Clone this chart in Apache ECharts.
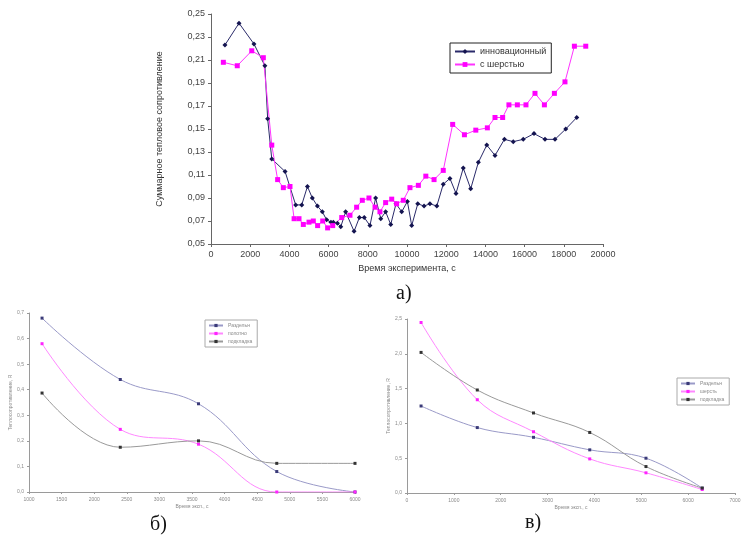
<!DOCTYPE html>
<html>
<head>
<meta charset="utf-8">
<script src="https://cdn.jsdelivr.net/npm/echarts@6/dist/echarts.min.js"></script>
<style>
  html, body { margin: 0; padding: 0; background: #fff; }
  #main { width: 746px; height: 542px; }
</style>
</head>
<body>
<div id="main"></div>
<script>
// --- а) суммарное тепловое сопротивление ---
var timeInnov = [710, 1430, 2190, 2750, 2890, 3100, 3780, 4320, 4630, 4920, 5170, 5430, 5680, 5900, 6120, 6240, 6450, 6620, 6870, 7300, 7570, 7820, 8110, 8400, 8660, 8910, 9170, 9440, 9730, 10020, 10240, 10550, 10870, 11170, 11520, 11850, 12190, 12500, 12870, 13250, 13640, 14070, 14490, 14970, 15420, 15930, 16480, 17040, 17550, 18100, 18660];
var valInnov = [0.223, 0.242, 0.224, 0.205, 0.159, 0.124, 0.113, 0.084, 0.084, 0.100, 0.090, 0.083, 0.078, 0.071, 0.069, 0.069, 0.068, 0.065, 0.078, 0.061, 0.073, 0.073, 0.066, 0.090, 0.072, 0.078, 0.067, 0.085, 0.078, 0.087, 0.066, 0.085, 0.083, 0.085, 0.083, 0.102, 0.107, 0.094, 0.116, 0.098, 0.121, 0.136, 0.127, 0.141, 0.139, 0.141, 0.146, 0.141, 0.141, 0.150, 0.160];
var timeWool = [630, 1340, 2080, 2670, 3100, 3400, 3690, 4030, 4240, 4490, 4710, 5000, 5220, 5440, 5700, 5950, 6210, 6670, 7090, 7430, 7720, 8060, 8370, 8620, 8910, 9220, 9470, 9810, 10150, 10580, 10960, 11380, 11850, 12330, 12930, 13510, 14100, 14490, 14880, 15200, 15630, 16070, 16530, 17010, 17520, 18060, 18540, 19120];
var valWool = [0.208, 0.205, 0.218, 0.212, 0.136, 0.106, 0.099, 0.100, 0.072, 0.072, 0.067, 0.069, 0.070, 0.066, 0.070, 0.064, 0.066, 0.073, 0.075, 0.082, 0.088, 0.090, 0.082, 0.078, 0.086, 0.089, 0.085, 0.088, 0.099, 0.101, 0.109, 0.106, 0.114, 0.154, 0.145, 0.149, 0.151, 0.160, 0.160, 0.171, 0.171, 0.171, 0.181, 0.171, 0.181, 0.191, 0.222, 0.222];
var yTicksA = [0.05, 0.07, 0.09, 0.11, 0.13, 0.15, 0.17, 0.19, 0.21, 0.23, 0.25];

// --- б) ---
var timeB = [1200, 2400, 3600, 4800, 6000];
var valB1 = [0.68, 0.44, 0.345, 0.08, 0.0];
var valB2 = [0.58, 0.245, 0.187, 0.0, 0.0];
var valB3 = [0.387, 0.175, 0.2, 0.112, 0.112];

// --- в) ---
var timeV = [300, 1500, 2700, 3900, 5100, 6300];
var valV1 = [1.25, 0.94, 0.80, 0.62, 0.50, 0.07];
var valV2 = [2.45, 1.34, 0.88, 0.49, 0.29, 0.05];
var valV3 = [2.02, 1.48, 1.15, 0.87, 0.38, 0.07];

var namesA = ['инновационный', 'с шерстью'];
var namesB = ['Раздельн', 'полотно', 'подкладка'];
var namesV = ['Раздельн', 'шерсть', 'подкладка'];

function zip(xs, ys) {
  return xs.map(function (x, i) { return [x, ys[i]]; });
}
function comma(d) {
  return function (v) { return v.toFixed(d).replace('.', ','); };
}
function plain(v) { return String(v); }

var chart = echarts.init(document.getElementById('main'));

var smallTxt = { fontSize: 5, color: '#8a8a8a', fontFamily: 'Liberation Sans' };
var smallAxis = { lineStyle: { color: '#9a9a9a', width: 1 } };

var option = {
  animation: false,
  backgroundColor: '#ffffff',
  textStyle: { fontFamily: 'Liberation Sans' },
  grid: [
    { left: 211, top: 14, width: 392, height: 230 },
    { left: 29, top: 313, width: 326, height: 179 },
    { left: 407, top: 319, width: 328, height: 174 }
  ],
  xAxis: [
    {
      gridIndex: 0, type: 'value', min: 0, max: 20000, interval: 2000,
      name: 'Время эксперимента, с', nameLocation: 'middle', nameGap: 20,
      nameTextStyle: { fontSize: 9, color: '#333' },
      axisLine: { lineStyle: { color: '#666' } },
      axisTick: { length: 3, lineStyle: { color: '#666' } },
      axisLabel: { fontSize: 9, color: '#444', margin: 6, formatter: plain },
      splitLine: { show: false }
    },
    {
      gridIndex: 1, type: 'value', min: 1000, max: 6000, interval: 500,
      name: 'Время эксп., с', nameLocation: 'middle', nameGap: 12,
      nameTextStyle: smallTxt,
      axisLine: smallAxis, axisTick: { length: 2, lineStyle: { color: '#9a9a9a' } },
      axisLabel: Object.assign({ margin: 5, formatter: plain }, smallTxt),
      splitLine: { show: false }
    },
    {
      gridIndex: 2, type: 'value', min: 0, max: 7000, interval: 1000,
      name: 'Время эксп., с', nameLocation: 'middle', nameGap: 12,
      nameTextStyle: smallTxt,
      axisLine: smallAxis, axisTick: { length: 2, lineStyle: { color: '#9a9a9a' } },
      axisLabel: Object.assign({ margin: 5, formatter: plain }, smallTxt),
      splitLine: { show: false }
    }
  ],
  yAxis: [
    {
      gridIndex: 0, type: 'value', min: 0.05, max: 0.25,
      name: 'Суммарное тепловое сопротивление', nameLocation: 'middle', nameGap: 47,
      nameTextStyle: { fontSize: 9, color: '#333' },
      axisLine: { show: true, lineStyle: { color: '#666' } },
      axisTick: { show: true, length: 3, customValues: yTicksA, lineStyle: { color: '#666' } },
      axisLabel: { fontSize: 9, color: '#444', margin: 6, customValues: yTicksA, formatter: comma(2) },
      splitLine: { show: false }
    },
    {
      gridIndex: 1, type: 'value', min: 0, max: 0.7, interval: 0.1,
      name: 'Теплосопротивление, R', nameLocation: 'middle', nameGap: 16,
      nameTextStyle: smallTxt,
      axisLine: Object.assign({ show: true }, smallAxis),
      axisTick: { show: true, length: 2, lineStyle: { color: '#9a9a9a' } },
      axisLabel: Object.assign({ margin: 5, formatter: comma(1) }, smallTxt),
      splitLine: { show: false }
    },
    {
      gridIndex: 2, type: 'value', min: 0, max: 2.5, interval: 0.5,
      name: 'Теплосопротивление, R', nameLocation: 'middle', nameGap: 16,
      nameTextStyle: smallTxt,
      axisLine: Object.assign({ show: true }, smallAxis),
      axisTick: { show: true, length: 2, lineStyle: { color: '#9a9a9a' } },
      axisLabel: Object.assign({ margin: 5, formatter: comma(1) }, smallTxt),
      splitLine: { show: false }
    }
  ],
  legend: [
    {
      data: namesA, orient: 'vertical', left: 450, top: 43,
      borderColor: '#222', borderWidth: 1, padding: [4, 5, 4, 4], itemGap: 4,
      itemWidth: 20, itemHeight: 6,
      textStyle: { fontSize: 9, color: '#333' }
    },
    {
      data: namesB, orient: 'vertical', left: 205, top: 320,
      borderColor: '#aaa', borderWidth: 1, padding: [3, 5, 3, 3], itemGap: 3,
      itemWidth: 14, itemHeight: 4,
      textStyle: smallTxt
    },
    {
      data: namesV, orient: 'vertical', left: 677, top: 378,
      borderColor: '#aaa', borderWidth: 1, padding: [3, 5, 3, 3], itemGap: 3,
      itemWidth: 14, itemHeight: 4,
      textStyle: smallTxt
    }
  ],
  graphic: [
    { type: 'text', left: 396, top: 284, style: { text: 'а)', font: '20px "Liberation Serif"', fill: '#111' } },
    { type: 'text', left: 150, top: 515, style: { text: 'б)', font: '20px "Liberation Serif"', fill: '#111' } },
    { type: 'text', left: 525, top: 513, style: { text: 'в)', font: '20px "Liberation Serif"', fill: '#111' } }
  ],
  series: [
    {
      name: namesA[0], type: 'line', xAxisIndex: 0, yAxisIndex: 0,
      data: zip(timeInnov, valInnov),
      symbol: 'diamond', symbolSize: 5,
      lineStyle: { color: '#2a2a6a', width: 1 },
      itemStyle: { color: '#141450' }
    },
    {
      name: namesA[1], type: 'line', xAxisIndex: 0, yAxisIndex: 0,
      data: zip(timeWool, valWool),
      symbol: 'rect', symbolSize: 5,
      lineStyle: { color: '#ff33ff', width: 1 },
      itemStyle: { color: '#ff00ff' }
    },
    {
      name: namesB[0], type: 'line', xAxisIndex: 1, yAxisIndex: 1, smooth: 0.4,
      data: zip(timeB, valB1),
      symbol: 'rect', symbolSize: 3,
      lineStyle: { color: '#9a9ac8', width: 1 },
      itemStyle: { color: '#3a3a78' }
    },
    {
      name: namesB[1], type: 'line', xAxisIndex: 1, yAxisIndex: 1, smooth: 0.4,
      data: zip(timeB, valB2),
      symbol: 'rect', symbolSize: 3,
      lineStyle: { color: '#ff88ff', width: 1 },
      itemStyle: { color: '#ff22ff' }
    },
    {
      name: namesB[2], type: 'line', xAxisIndex: 1, yAxisIndex: 1, smooth: 0.4,
      data: zip(timeB, valB3),
      symbol: 'rect', symbolSize: 3,
      lineStyle: { color: '#9a9a9a', width: 1 },
      itemStyle: { color: '#333333' }
    },
    {
      name: namesV[0], type: 'line', xAxisIndex: 2, yAxisIndex: 2, smooth: 0.4,
      data: zip(timeV, valV1),
      symbol: 'rect', symbolSize: 3,
      lineStyle: { color: '#9a9ac8', width: 1 },
      itemStyle: { color: '#3a3a78' }
    },
    {
      name: namesV[1], type: 'line', xAxisIndex: 2, yAxisIndex: 2, smooth: 0.4,
      data: zip(timeV, valV2),
      symbol: 'rect', symbolSize: 3,
      lineStyle: { color: '#ff88ff', width: 1 },
      itemStyle: { color: '#ff22ff' }
    },
    {
      name: namesV[2], type: 'line', xAxisIndex: 2, yAxisIndex: 2, smooth: 0.4,
      data: zip(timeV, valV3),
      symbol: 'rect', symbolSize: 3,
      lineStyle: { color: '#9a9a9a', width: 1 },
      itemStyle: { color: '#333333' }
    }
  ]
};

chart.setOption(option);
</script>
</body>
</html>
